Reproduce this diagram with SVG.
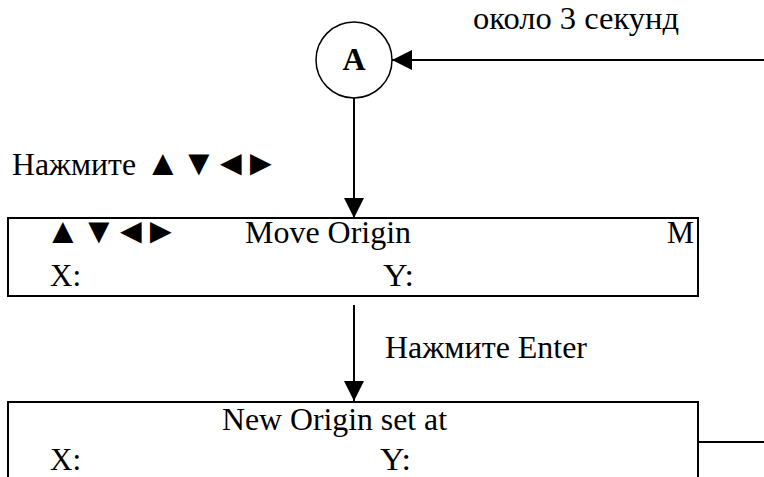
<svg xmlns="http://www.w3.org/2000/svg" width="764" height="477" viewBox="0 0 764 477">
<style>
text{font-family:"Liberation Serif","Times New Roman",serif;font-size:32px;fill:#000}
text.sym{font-size:36px}
.box{fill:#fff;stroke:#000;stroke-width:2}
.ln{fill:none;stroke:#000;stroke-width:2}
</style>
<defs>
<marker id="ah" viewBox="0 0 20 20" refX="20" refY="10" markerWidth="20" markerHeight="20" markerUnits="userSpaceOnUse" orient="auto">
<path d="M0,0 L20,10 L0,20 Z" fill="#000"/>
</marker>
</defs>
<rect width="764" height="477" fill="#fff"/>
<g id="connectors">
<line class="ln" x1="764" y1="60" x2="392" y2="60" marker-end="url(#ah)"/>
<line class="ln" x1="354" y1="98" x2="354" y2="218" marker-end="url(#ah)"/>
<line class="ln" x1="354" y1="305" x2="354" y2="401" marker-end="url(#ah)"/>
<line class="ln" x1="699" y1="442" x2="764" y2="442"/>
</g>
<g id="label-top"><text x="473" y="29" textLength="206" lengthAdjust="spacingAndGlyphs">около 3 секунд</text></g>
<g id="nodeA">
<circle cx="354" cy="60" r="38" fill="#fff" stroke="#000" stroke-width="1.5"/>
<text x="354" y="70" font-weight="bold" font-size="30" text-anchor="middle">A</text>
</g>
<g id="label-press1">
<text x="12" y="175" textLength="124" lengthAdjust="spacingAndGlyphs">Нажмите</text>
<text class="sym" x="145 181 213 243" y="175">▲▼◄►</text>
</g>
<g id="box1">
<rect class="box" x="8" y="218" width="690" height="78"/>
<text class="sym" x="45 81 113 143" y="243">▲▼◄►</text>
<text x="245" y="243" textLength="166" lengthAdjust="spacingAndGlyphs">Move Origin</text>
<text x="667" y="243" textLength="27" lengthAdjust="spacingAndGlyphs">M</text>
<text x="50" y="286" textLength="31" lengthAdjust="spacingAndGlyphs">X:</text>
<text x="383" y="286" textLength="31" lengthAdjust="spacingAndGlyphs">Y:</text>
</g>
<g id="label-press2"><text x="385" y="358" textLength="202" lengthAdjust="spacingAndGlyphs">Нажмите Enter</text></g>
<g id="box2">
<rect class="box" x="8" y="402" width="690" height="90"/>
<text x="222" y="430" textLength="225" lengthAdjust="spacingAndGlyphs">New Origin set at</text>
<text x="50" y="470" textLength="31" lengthAdjust="spacingAndGlyphs">X:</text>
<text x="380" y="470" textLength="31" lengthAdjust="spacingAndGlyphs">Y:</text>
</g>
</svg>
